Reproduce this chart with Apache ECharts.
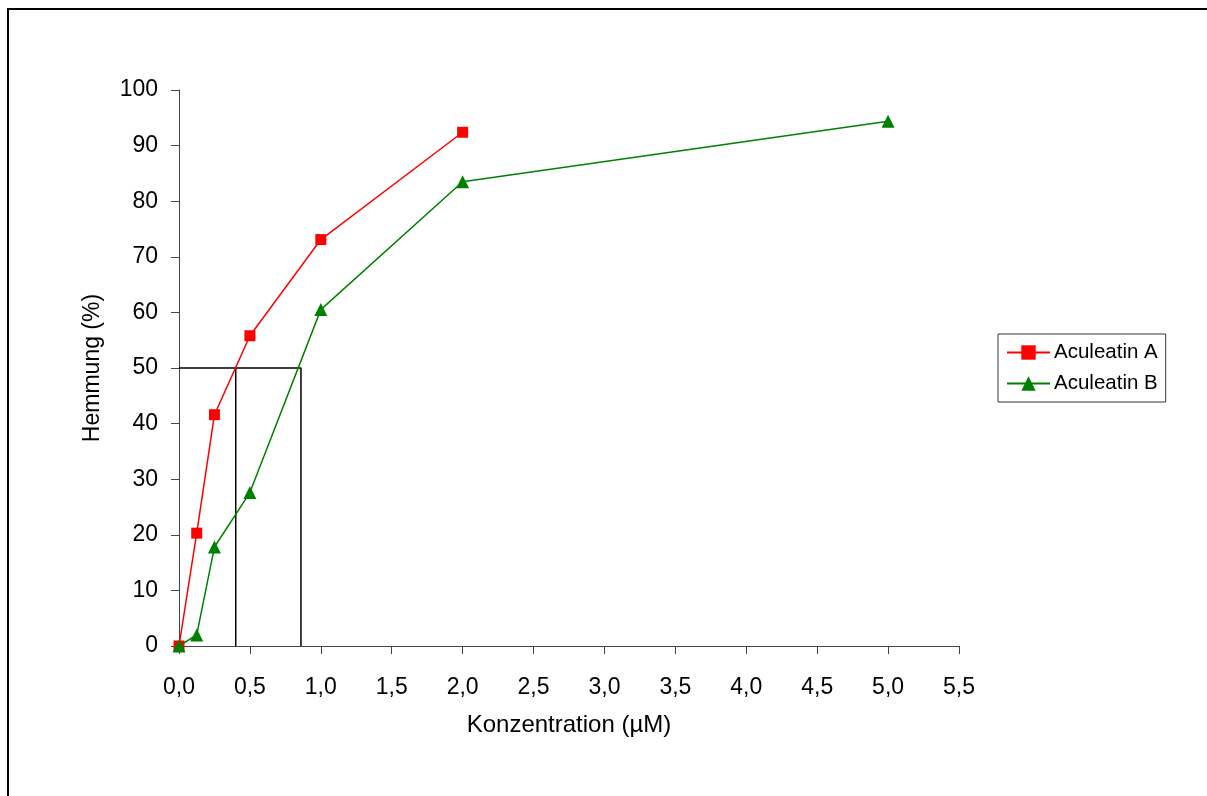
<!DOCTYPE html>
<html>
<head>
<meta charset="utf-8">
<script src="https://cdn.jsdelivr.net/npm/echarts@6/dist/echarts.min.js"></script>
<style>
  html, body { margin: 0; padding: 0; background: #fff; }
  #frame { position: absolute; left: 7px; top: 8px; width: 1200px; height: 788px;
           border-left: 2px solid #000; border-top: 2px solid #000; box-sizing: border-box; }
  #chart { position: absolute; left: 0; top: 0; width: 1207px; height: 796px; }
</style>
</head>
<body>
<div id="frame"></div>
<div id="chart"></div>
<script>
// Konzentration (µM) vs. Hemmung (%)
const seriesNames = ['Aculeatin A', 'Aculeatin B'];
const concA = [0, 0.125, 0.25, 0.5, 1.0, 2.0];
const hemmungA = [0, 20.3, 41.6, 55.8, 73.1, 92.4];
const concB = [0, 0.125, 0.25, 0.5, 1.0, 2.0, 5.0];
const hemmungB = [0, 2.0, 17.8, 27.6, 60.5, 83.5, 94.4];
// IC50 guide lines: 50 % level and the two concentrations where it is reached
const ic50Level = 50;
const ic50A = 0.4;
const ic50B = 0.86;

const pairs = (xs, ys) => xs.map((x, i) => [x, ys[i]]);
const FONT = '"Liberation Sans", Arial, sans-serif';

const chart = echarts.init(document.getElementById('chart'), null, { renderer: 'canvas' });
chart.setOption({
  animation: false,
  backgroundColor: 'transparent',
  grid: { left: 179, right: 248, top: 90, bottom: 150, containLabel: false },
  legend: {
    data: [seriesNames[0], seriesNames[1]],
    orient: 'vertical',
    left: 998, top: 334,
    padding: [8, 8, 8, 8],
    itemGap: 10,
    itemWidth: 43, itemHeight: 18,
    borderColor: '#333', borderWidth: 1,
    textStyle: { fontFamily: FONT, fontSize: 20.5, lineHeight: 20, color: '#000', padding: [0, 0, 0, -1] },
    selectedMode: false
  },
  xAxis: {
    type: 'value',
    min: 0, max: 5.5, interval: 0.5,
    name: 'Konzentration (µM)',
    nameLocation: 'middle', nameGap: 67,
    nameTextStyle: { fontFamily: FONT, fontSize: 24, color: '#000' },
    axisLine: { show: true, onZero: false, lineStyle: { color: '#444', width: 1 } },
    axisTick: { show: true, length: 8, inside: false, lineStyle: { color: '#444' } },
    axisLabel: { fontFamily: FONT, fontSize: 23, color: '#000', margin: 30,
                 formatter: v => v.toFixed(1).replace('.', ',') },
    splitLine: { show: false }
  },
  yAxis: {
    type: 'value',
    min: 0, max: 100, interval: 10,
    name: 'Hemmung (%)',
    nameLocation: 'middle', nameGap: 75, nameRotate: 90,
    nameTextStyle: { fontFamily: FONT, fontSize: 23, color: '#000' },
    axisLine: { show: true, lineStyle: { color: '#444', width: 1 } },
    axisTick: { show: true, length: 8, inside: false, lineStyle: { color: '#444' } },
    axisLabel: { fontFamily: FONT, fontSize: 23, color: '#000', margin: 21 },
    splitLine: { show: false }
  },
  series: [
    {
      name: 'ic50',
      type: 'line',
      data: [[ic50A, 0], [ic50A, ic50Level], [0, ic50Level], [ic50B, ic50Level], [ic50B, 0]],
      symbol: 'none',
      lineStyle: { color: '#000', width: 1.5 },
      silent: true,
      z: 1
    },
    {
      name: seriesNames[0],
      type: 'line',
      data: pairs(concA, hemmungA),
      symbol: 'rect', symbolSize: 11,
      itemStyle: { color: '#ff0000' },
      lineStyle: { color: '#ff0000', width: 1.5 },
      z: 3
    },
    {
      name: seriesNames[1],
      type: 'line',
      data: pairs(concB, hemmungB),
      symbol: 'triangle', symbolSize: 13,
      itemStyle: { color: '#008000' },
      lineStyle: { color: '#008000', width: 1.5 },
      z: 4
    }
  ]
});
</script>
</body>
</html>
